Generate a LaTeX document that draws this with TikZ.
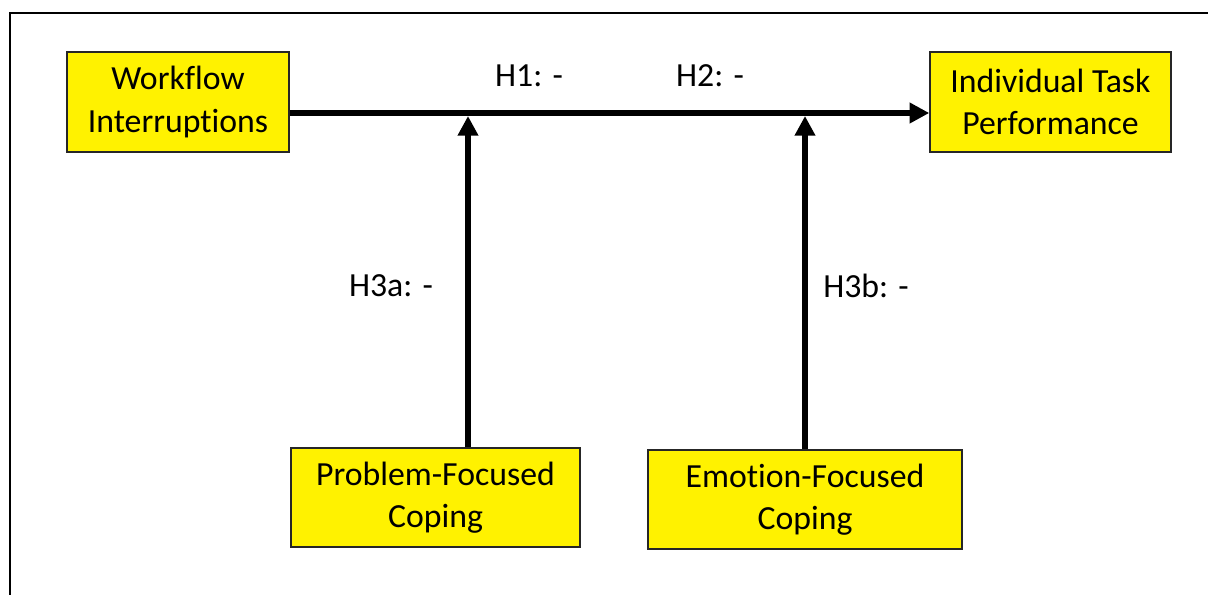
\documentclass[tikz,border=0pt]{standalone}
\usepackage{fontspec}
\setmainfont{Carlito}[Ligatures=NoCommon]
\usetikzlibrary{arrows.meta}

\begin{document}
\begin{tikzpicture}[x=0.025cm,y=-0.025cm,
		box/.style = {draw=black!85, fill=yellow, line width=1pt, align=center,
			inner sep=0pt, minimum height=2.5cm, font=\fontsize{24}{30}\selectfont},
		hyp/.style = {font=\fontsize{24}{30}\selectfont},
		link/.style = {line width=3.6pt, -{Triangle[length=14pt,width=14pt]}}]
		
		\clip (0,0) rectangle (1208,594);
		\draw[line width=1.5pt] (10,13) rectangle (1260,640);
		
		\node[box,minimum width=5.55cm] (wf) at (178,102) {Workflow\\Interruptions};
		\node[box,minimum width=6.025cm] (itp) at (1050.5,102) {Individual Task\\Performance};
		\node[box,minimum width=7.225cm,minimum height=2.475cm] (pfc) at (435.5,497.5) {Problem-Focused\\Coping};
		\node[box,minimum width=7.85cm,minimum height=2.475cm] (efc) at (805,499.5) {Emotion-Focused\\Coping};
		
		\node[hyp] (h1) at (529,76) {H1: -};
		\node[hyp] (h2) at (710,76) {H2: -};
		\node[hyp] (h3a) at (391,286) {H3a: -};
		\node[hyp] (h3b) at (866,286) {H3b: -};
		
		\coordinate (j1) at (468,116);
		\coordinate (j2) at (805,116);
		
		\draw[link] (wf.east |- 0,113) -- (itp.west |- 0,113);
		\draw[link] (pfc.north -| j1) -- (j1);
		\draw[link] (efc.north) -- (j2);
\end{tikzpicture}
\end{document}
